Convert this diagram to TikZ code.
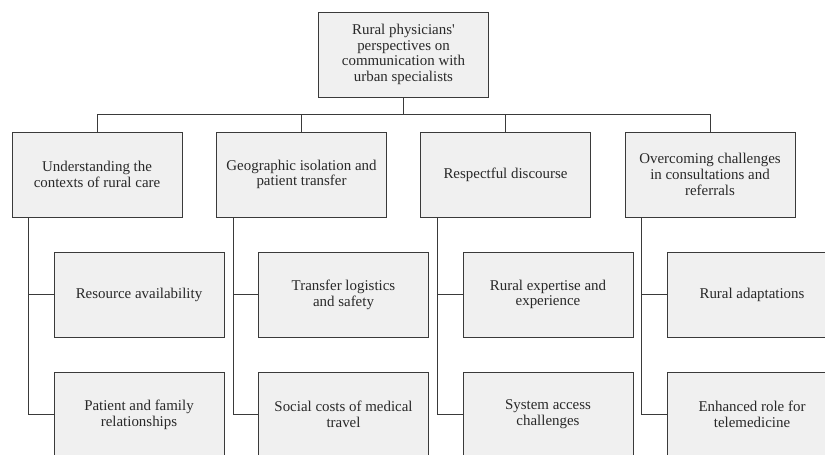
\documentclass[tikz,border=0pt]{standalone}
\usepackage{fontspec}
\setmainfont{Liberation Serif}
\usepackage{xcolor}
\definecolor{thfill}{RGB}{240,240,240}
\definecolor{thline}{RGB}{58,58,58}
\definecolor{thtext}{RGB}{40,40,40}
\usetikzlibrary{positioning}

\begin{document}
\begin{tikzpicture}[x=0.75pt, y=-0.75pt,
  themebox/.style={draw=thline, fill=thfill, line width=0.75pt,
    minimum width=127.5pt, minimum height=63.75pt, inner sep=2pt,
    align=center, text=thtext, font=\fontsize{11.2}{11.8}\selectfont},
  link/.style={draw=thline, line width=0.7pt}]
  \useasboundingbox (0,0) rectangle (825,454);
  \clip (0,0) rectangle (825,454);

  % Root
  \node[themebox] (root) at (403.5,54.5)
       {Rural physicians\textquotesingle\\perspectives on\\communication with\\urban specialists};

  % Themes
  \node[themebox] (themeA) at (97,174.5)
       {Understanding the\\contexts of rural care};
  \node[themebox] (themeB) at (301.5,174.5)
       {Geographic isolation and\\patient transfer};
  \node[themebox] (themeC) at (505.5,174.5)
       {Respectful discourse};
  \node[themebox] (themeD) at (710,174.5)
       {Overcoming challenges\\in consultations and\\referrals};

  % Subthemes
  \node[themebox] (subA1) at (139,294.5) {Resource availability};
  \node[themebox] (subA2) at (139,414.5) {Patient and family\\relationships};
  \node[themebox] (subB1) at (343.5,294.5) {Transfer logistics\\and safety};
  \node[themebox] (subB2) at (343.5,414.5) {Social costs of medical\\travel};
  \node[themebox] (subC1) at (548,294.5) {Rural expertise and\\experience};
  \node[themebox] (subC2) at (548,414.5) {System access\\challenges};
  \node[themebox] (subD1) at (752,294.5) {Rural adaptations};
  \node[themebox] (subD2) at (752,414.5) {Enhanced role for\\telemedicine};

  % Root to themes
  \coordinate (bus) at (403.5,114);
  \draw[link] (root.south) -- (bus);
  \foreach \t in {themeA,themeB,themeC,themeD}
    \draw[link] (bus) -| (\t.north);

  % Themes to subthemes
  \foreach \t/\s in {themeA/subA, themeB/subB, themeC/subC, themeD/subD} {
    \draw[link] ([xshift=12.75pt]\t.south west) |- (\s1.west);
    \draw[link] ([xshift=12.75pt]\t.south west) |- (\s2.west);
  }
\end{tikzpicture}
\end{document}
